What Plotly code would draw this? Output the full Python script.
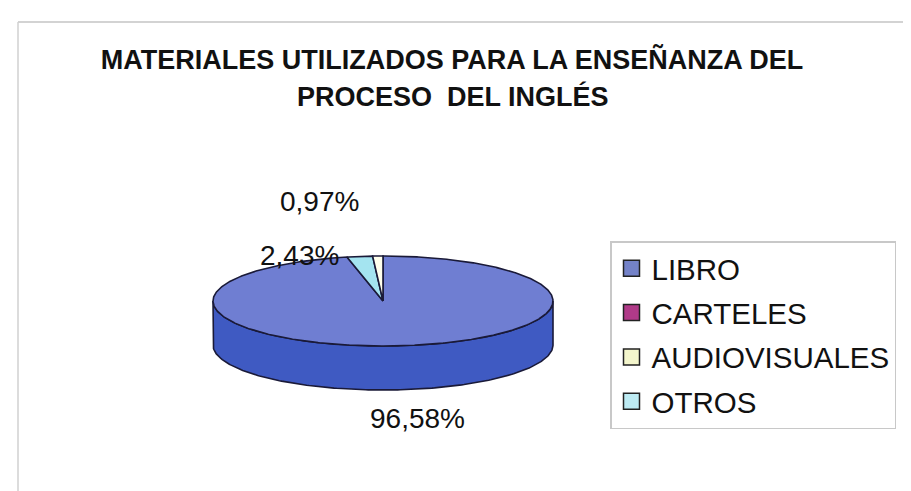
import numpy as np
import plotly.graph_objects as go

# ---- data ----
categories = ["LIBRO", "CARTELES", "AUDIOVISUALES", "OTROS"]
values = [96.58, 0.0, 0.97, 2.43]
value_labels = ["96,58%", "0,00%", "0,97%", "2,43%"]
# order in which slices are laid out clockwise from 12 o'clock (as in picture)
slice_order = ["LIBRO", "CARTELES", "OTROS", "AUDIOVISUALES"]
title_lines = ["MATERIALES UTILIZADOS PARA LA ENSEÑANZA DEL", "PROCESO  DEL INGLÉS"]

# ---- style ----
top_colors = {"LIBRO": "#6F7ED2", "CARTELES": "#A8327F",
              "AUDIOVISUALES": "#FFFFEC", "OTROS": "#A4E4F0"}
side_colors = {"LIBRO": "#3F5AC2", "CARTELES": "#7A2260",
               "AUDIOVISUALES": "#E6E6B0", "OTROS": "#7CC4D4"}
legend_colors = {"LIBRO": "#7482C8", "CARTELES": "#B03A88",
                 "AUDIOVISUALES": "#F4F6CC", "OTROS": "#BDEBF3"}
edge = "#1A1A38"
FONT = "Liberation Sans, Arial"

W, H = 911, 491
CX, CY = 375, 293      # centre of top ellipse (px)
A, B = 170, 45         # semi axes
DEPTH = 44

label_pos = {"LIBRO": (409, 410), "AUDIOVISUALES": (311, 193), "OTROS": (291, 247)}

def pt(theta_deg, dy=0.0):
    t = np.radians(theta_deg)
    return CX + A * np.sin(t), CY - B * np.cos(t) + dy

fig = go.Figure()

# slice angles from values
vals = dict(zip(categories, values))
total = sum(values)
angles = {}
acc = 0.0
for c in slice_order:
    span = vals[c] / total * 360.0
    angles[c] = (acc, acc + span)
    acc += span

# side walls (front half only: 90..270 deg)
for c in slice_order:
    s, e = angles[c]
    s2, e2 = max(s, 90.0), min(e, 270.0)
    if e2 <= s2:
        continue
    th = np.linspace(s2, e2, 200)
    xs_top, ys_top = pt(th)
    xs_bot, ys_bot = pt(th[::-1], DEPTH)
    fig.add_trace(go.Scatter(
        x=np.concatenate([xs_top, xs_bot, xs_top[:1]]),
        y=np.concatenate([ys_top, ys_bot, ys_top[:1]]),
        mode="lines", fill="toself", fillcolor=side_colors[c],
        line=dict(color=edge, width=1.6), hoverinfo="skip",
        showlegend=False, legendgroup=c))

# top faces
for c in slice_order:
    s, e = angles[c]
    if e - s <= 0:
        continue
    th = np.linspace(s, e, max(int((e - s) * 2), 4))
    xs, ys = pt(th)
    fig.add_trace(go.Scatter(
        x=np.concatenate([[CX], xs, [CX]]),
        y=np.concatenate([[CY], ys, [CY]]),
        mode="lines", fill="toself", fillcolor=top_colors[c],
        line=dict(color=edge, width=1.6), hoverinfo="text",
        text=f"{c}: {vals[c]}%", showlegend=False, legendgroup=c))

# legend entries
for c in categories:
    fig.add_trace(go.Scatter(
        x=[None], y=[None], mode="markers", name=c, legendgroup=c,
        marker=dict(symbol="square", size=16, color=legend_colors[c],
                    line=dict(color="#222222", width=1.5))))

# percentage labels
for c, lab in zip(categories, value_labels):
    if vals[c] <= 0:
        continue
    x, y = label_pos[c]
    fig.add_annotation(x=x, y=y, xref="x", yref="y", text=lab, showarrow=False,
                       font=dict(family=FONT, size=28, color="#111111"))

# second title line
fig.add_annotation(x=445, y=88, xref="x", yref="y", text=title_lines[1],
                   showarrow=False, yanchor="middle",
                   font=dict(family=FONT, size=27, color="#111111", weight="bold"))

# chart frame (scanned Excel border)
fig.add_shape(type="line", xref="x", yref="y", x0=10, x1=W + 5, y0=14, y1=14,
              line=dict(color="#C4C4C4", width=1.5))
fig.add_shape(type="line", xref="x", yref="y", x0=10, x1=10, y0=14, y1=H + 5,
              line=dict(color="#D0D0D0", width=1.5))

fig.update_layout(
    width=W, height=H,
    margin=dict(l=0, r=0, t=0, b=0),
    paper_bgcolor="white", plot_bgcolor="white",
    xaxis=dict(range=[0, W], visible=False, fixedrange=True),
    yaxis=dict(range=[H, 0], visible=False, fixedrange=True),
    title=dict(text=title_lines[0],
               x=444 / W, xanchor="center", y=1 - 51.5 / H, yanchor="middle",
               xref="container", yref="container",
               font=dict(family=FONT, size=27, color="#111111", weight="bold")),
    legend=dict(x=602 / W, y=1 - 233 / H, xanchor="left", yanchor="top",
                bgcolor="white", bordercolor="#C8C8C8", borderwidth=1.5,
                font=dict(family=FONT, size=29.5, color="#111111"),
                traceorder="grouped", tracegroupgap=3, itemwidth=30),
    showlegend=True,
)

fig.write_html("out.html")
